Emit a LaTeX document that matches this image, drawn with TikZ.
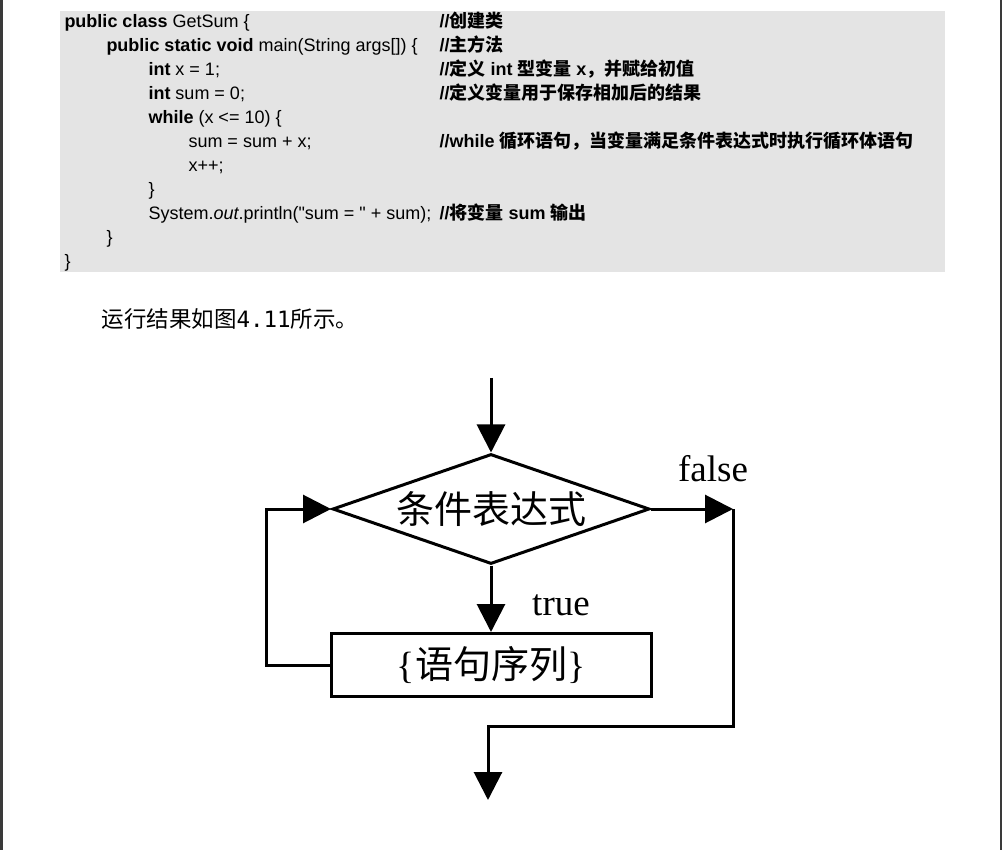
\documentclass[tikz,border=0pt]{standalone}
\usepackage{fontspec}
\setmainfont{Liberation Serif}
\setmonofont{DejaVu Sans Mono}
\newfontfamily\codefont{Liberation Sans}
\newfontfamily\cjk{Noto Sans CJK SC}
\newcommand{\zh}[1]{{\cjk #1}}
\usetikzlibrary{shapes.geometric, arrows.meta}
\definecolor{codebg}{RGB}{228,228,228}
\definecolor{edgegray}{RGB}{58,58,58}

\begin{document}
\begin{tikzpicture}[x=1pt,y=-1pt,
	codeline/.style={anchor=base west, inner sep=0pt, font=\codefont\fontsize{18}{21}\selectfont},
	remark/.style={codeline, font=\codefont\bfseries\fontsize{18}{21}\selectfont},
	decision/.style={diamond, draw=black, aspect=2.9, minimum width=317pt, minimum height=110pt, inner sep=0pt, font=\cjk\fontsize{38}{40}\selectfont},
	process/.style={rectangle, draw=black, minimum width=320pt, minimum height=63pt, inner sep=0pt, font=\fontsize{38}{40}\selectfont},
	flowlabel/.style={inner sep=0pt, font=\fontsize{37}{40}\selectfont},
	line width=3pt, >={Triangle[length=28pt,width=28pt]}]
	
	\useasboundingbox (0,0) rectangle (1002,850);
	
	%Page
	\fill[white] (0,0) rectangle (1002,850);
	\fill[edgegray] (0,0) rectangle (3,850);
	\fill[edgegray] (999.5,0) rectangle (1002,850);
	\fill[codebg] (60,11) rectangle (945,272);
	
	%Code
	\node[codeline] (c1) at (63,28) {\textbf{public class} GetSum \{};
	\node[codeline] (c2) at (105,52) {\textbf{public static void} main(String args[]) \{};
	\node[codeline] (c3) at (147,76) {\textbf{int} x = 1;};
	\node[codeline] (c4) at (147,100) {\textbf{int} sum = 0;};
	\node[codeline] (c5) at (147,124) {\textbf{while} (x <= 10) \{};
	\node[codeline] (c6) at (187,148) {sum = sum + x;};
	\node[codeline] (c7) at (187,172) {x++;};
	\node[codeline] (c8) at (147,196) {\}};
	\node[codeline] (c9) at (147,220) {System.\textit{out}.println("sum = " + sum);};
	\node[codeline] (c10) at (105,244) {\}};
	\node[codeline] (c11) at (63,268) {\}};
	
	%Comments
	\node[remark] (r1) at (438,28) {//\zh{创建类}};
	\node[remark] (r2) at (438,52) {//\zh{主方法}};
	\node[remark] (r3) at (438,76) {//\zh{定义} int \zh{型变量} x\zh{，并赋给初值}};
	\node[remark] (r4) at (438,100) {//\zh{定义变量用于保存相加后的结果}};
	\node[remark] (r6) at (438,148) {//while \zh{循环语句，当变量满足条件表达式时执行循环体语句}};
	\node[remark] (r9) at (438,220) {//\zh{将变量} sum \zh{输出}};
	
	%Caption
	\node[anchor=base west, inner sep=0pt, font=\cjk\fontsize{22.5}{26}\selectfont] (cap) at (100,328) {运行结果如图{\ttfamily 4.11}所示。};
	
	%Nodes
	\node[decision] (cond) at (491,509) {条件表达式};
	\node[process] (stmts) at (491,665) {\{\zh{语句序列}\}};
	\node[flowlabel] (true) at (561,605) {true};
	\node[flowlabel] (false) at (713,469) {false};
	
	\coordinate (entry) at (491,378);
	\coordinate (fturn) at (733,509);
	\coordinate (fback) at (488,726);
	\coordinate (exit) at (488,800);
	
	%Lines
	\draw[black, ->] (entry) -- (cond.north);
	\draw[black, ->] (cond.south) -- (stmts.north);
	\draw[black, ->] (stmts.west) -- ++(-63,0) |- (cond.west);
	\draw[black, ->] (cond.east) -- (fturn);
	\draw[black, ->] (fturn) |- (fback) -- (exit);
\end{tikzpicture}
\end{document}
